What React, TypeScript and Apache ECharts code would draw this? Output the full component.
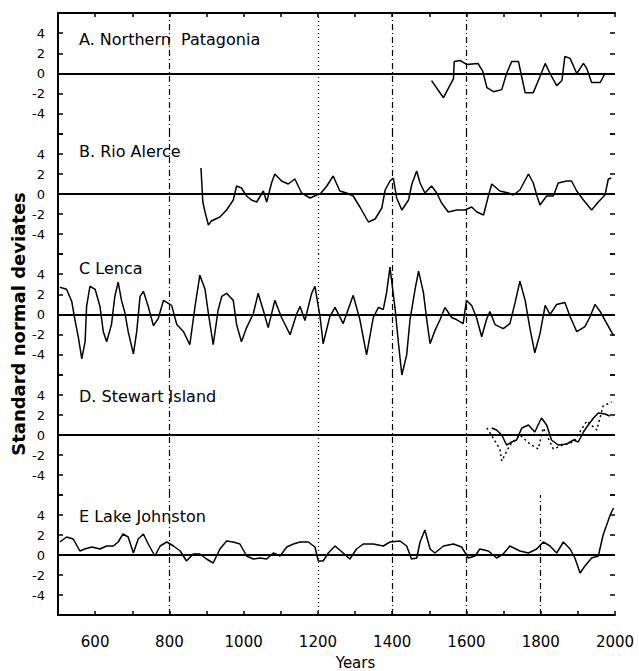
import React, { useEffect, useRef } from "react";
import * as echarts from "echarts";

// A. Northern Patagonia
const yearsA = [1506, 1538, 1565, 1567, 1583, 1600, 1631, 1644, 1655, 1673, 1695, 1708, 1722, 1740, 1748, 1758, 1780, 1798, 1812, 1825, 1843, 1857, 1865, 1879, 1897, 1915, 1924, 1937, 1960, 1973];
const valuesA = [-0.7, -2.4, -0.5, 1.2, 1.3, 0.9, 1.0, 0.2, -1.4, -1.8, -1.6, 0, 1.2, 1.2, -0.2, -1.9, -1.9, -0.3, 1.0, 0, -1.2, -0.7, 1.7, 1.5, 0, 1.0, 0.5, -0.9, -0.9, 0];

// B. Rio Alerce
const yearsB = [885, 890, 896, 905, 913, 936, 954, 972, 981, 994, 1008, 1021, 1035, 1053, 1062, 1075, 1084, 1102, 1120, 1138, 1156, 1179, 1197, 1206, 1224, 1241, 1259, 1277, 1295, 1313, 1336, 1354, 1372, 1381, 1394, 1403, 1412, 1426, 1444, 1453, 1466, 1475, 1488, 1506, 1520, 1533, 1551, 1574, 1596, 1614, 1628, 1646, 1659, 1668, 1690, 1713, 1726, 1744, 1767, 1780, 1789, 1798, 1816, 1834, 1847, 1870, 1883, 1897, 1915, 1937, 1955, 1973, 1982, 1990];
const valuesB = [2.6, -0.8, -1.8, -3.1, -2.7, -2.3, -1.6, -0.6, 0.8, 0.6, -0.2, -0.6, -0.8, 0.3, -0.8, 1.1, 2.0, 1.3, 1.0, 1.5, 0.1, -0.4, -0.1, 0, 0.8, 1.8, 0.3, 0.1, -0.2, -1.3, -2.8, -2.5, -1.4, 0.4, 1.3, 1.6, -0.4, -1.6, -0.6, 1.0, 2.3, 1.1, 0.1, 0.8, 0.1, -0.9, -1.8, -1.6, -1.6, -1.3, -1.8, -2.1, -0.2, 1.0, 0.3, 0.1, -0.1, 0.4, 2.0, 1.1, -0.1, -1.1, -0.2, -0.2, 1.1, 1.3, 1.3, 0.3, -0.6, -1.6, -0.8, -0.1, 1.5, 1.6];

// C. Lenca
const yearsC = [505, 523, 537, 546, 555, 564, 573, 577, 586, 600, 613, 622, 631, 644, 653, 662, 671, 680, 689, 703, 712, 721, 730, 743, 757, 770, 784, 806, 820, 838, 855, 869, 882, 896, 905, 918, 931, 941, 954, 972, 981, 994, 1008, 1026, 1039, 1053, 1066, 1084, 1102, 1125, 1143, 1152, 1165, 1183, 1192, 1206, 1214, 1232, 1246, 1268, 1295, 1313, 1331, 1349, 1363, 1376, 1385, 1394, 1408, 1417, 1426, 1439, 1448, 1462, 1471, 1484, 1493, 1502, 1515, 1529, 1542, 1560, 1573, 1591, 1600, 1614, 1627, 1641, 1654, 1663, 1677, 1699, 1717, 1731, 1744, 1758, 1771, 1784, 1798, 1812, 1825, 1843, 1865, 1879, 1897, 1919, 1933, 1946, 1960, 1978, 1996];
const valuesC = [2.7, 2.5, 1.3, -0.6, -2.3, -4.4, -2.7, 0.8, 2.8, 2.5, 0.8, -1.7, -2.7, -1.0, 1.8, 3.2, 1.4, 0.2, -1.7, -3.9, -1.7, 1.8, 2.3, 0.8, -1.1, -0.4, 1.4, 0.9, -1.0, -1.7, -3.0, 0.8, 3.9, 2.5, 0.1, -3.0, 0.4, 1.8, 2.1, 1.4, -1.0, -2.7, -1.3, 0.1, 2.1, 0.4, -1.3, 1.4, -0.3, -2.0, 0.1, 0.8, -0.6, 2.1, 2.8, -0.3, -2.9, -0.2, 0.7, -0.9, 1.9, -0.5, -4.0, -0.3, 0.7, 0.5, 2.2, 4.7, 0.5, -2.9, -6.0, -4.0, -0.5, 2.6, 4.3, 2.2, -0.5, -2.9, -1.6, -0.5, 0.7, -0.3, -0.5, -0.9, 1.4, 0.9, -0.3, -2.2, -0.5, 0.3, -1.0, -1.4, -0.9, 1.2, 3.3, 1.4, -1.4, -3.8, -1.9, 0.9, 0, 1.0, 1.2, -0.2, -1.7, -1.2, -0.2, 1.0, 0.3, -0.9, -2.1];

// D. Stewart Island (solid and dotted records)
const yearsD = [1668, 1681, 1695, 1708, 1722, 1735, 1749, 1767, 1784, 1802, 1816, 1829, 1847, 1870, 1888, 1901, 1915, 1928, 1942, 1955, 1973, 1986];
const valuesD = [0.7, 0.5, 0, -1.0, -0.7, -0.5, 0.7, 1.0, 0.3, 1.7, 1.0, -0.5, -1.0, -0.9, -0.5, -0.7, 0.3, 1.0, 1.7, 2.2, 2.1, 1.9];
const yearsD2 = [1655, 1690, 1695, 1717, 1744, 1771, 1793, 1807, 1834, 1860, 1888, 1924, 1951, 1968, 1991];
const valuesD2 = [0.7, -1.4, -2.6, -1.0, 0, -0.9, -1.4, 0.7, -1.4, -1.0, -0.7, 1.4, 0.5, 2.9, 3.3];

// E. Lake Johnston
const yearsE = [505, 523, 541, 559, 572, 591, 613, 631, 649, 662, 675, 689, 703, 716, 730, 743, 761, 775, 793, 811, 829, 846, 864, 882, 900, 918, 936, 954, 972, 990, 1008, 1026, 1044, 1062, 1080, 1098, 1116, 1134, 1152, 1174, 1192, 1201, 1214, 1228, 1246, 1268, 1286, 1304, 1322, 1349, 1376, 1394, 1421, 1439, 1452, 1466, 1475, 1488, 1502, 1515, 1538, 1565, 1587, 1605, 1623, 1636, 1659, 1681, 1699, 1717, 1744, 1767, 1789, 1807, 1825, 1843, 1861, 1879, 1892, 1906, 1919, 1937, 1955, 1968, 1987, 1996];
const valuesE = [1.3, 1.8, 1.6, 0.4, 0.6, 0.8, 0.6, 0.9, 0.9, 1.3, 2.1, 1.8, 0.2, 1.6, 2.1, 1.1, -0.1, 0.9, 1.3, 0.9, 0.4, -0.6, 0.1, 0.1, -0.4, -0.8, 0.6, 1.4, 1.3, 1.1, -0.1, -0.4, -0.3, -0.4, 0.2, -0.1, 0.8, 1.1, 1.3, 1.3, 0.8, -0.6, -0.6, 0.2, 0.9, 0.2, -0.4, 0.6, 1.1, 1.1, 0.9, 1.3, 1.4, 0.9, -0.4, -0.3, 1.3, 2.5, 0.6, 0.2, 0.9, 1.1, 0.8, -0.3, -0.1, 0.6, 0.4, -0.3, 0.1, 0.9, 0.4, 0.2, 0.6, 1.3, 0.9, 0.2, 1.3, 0.6, -0.3, -1.8, -1.1, -0.3, -0.1, 2.0, 4.0, 4.7];

const panelLabels = ["A. Northern  Patagonia", "B. Rio Alerce", "C Lenca", "D. Stewart Island", "E Lake Johnston"];
const xTickLabels = [600, 800, 1000, 1200, 1400, 1600, 1800, 2000];
const yTickLabels = [-4, -2, 0, 2, 4];
const refYears = [800, 1200, 1400, 1600];

const FONT = "DejaVu Sans";

export default function App() {
  const ref = useRef<HTMLDivElement>(null);
  useEffect(() => {
    document.body.style.margin = "0";
    if (!ref.current) return;
    const chart = echarts.init(ref.current, null, { renderer: "svg" });
    const tops = [13, 134, 254, 375, 495];
    const heights = [121, 120, 121, 120, 121];
    const grids = tops.map((t, i) => ({ left: 58, right: 24, top: t, height: heights[i] }));

    const xAxes: any[] = tops.map((_, i) => ({
      gridIndex: i,
      type: "value",
      min: 500,
      max: 2000,
      interval: 100,
      show: i === 4,
      position: "bottom",
      axisLine: { onZero: false, lineStyle: { color: "#000", width: 2 } },
      axisTick: { inside: true, length: 4, lineStyle: { color: "#000", width: 1.5 } },
      splitLine: { show: false },
      axisLabel: {
        show: i === 4,
        margin: 19,
        color: "#000",
        fontSize: 15,
        fontFamily: FONT,
        formatter: (v: number) => (xTickLabels.includes(v) ? String(v) : ""),
      },
      name: i === 4 ? "Years" : "",
      nameLocation: "middle",
      nameGap: 40,
      nameTextStyle: { color: "#000", fontSize: 15, fontFamily: FONT, padding: [0, 0, 0, 38] },
    }));
    xAxes.push({
      gridIndex: 0,
      type: "value",
      min: 500,
      max: 2000,
      interval: 100,
      position: "top",
      axisLine: { onZero: false, lineStyle: { color: "#000", width: 2 } },
      axisTick: { inside: true, length: 4, lineStyle: { color: "#000", width: 1.5 } },
      axisLabel: { show: false },
      splitLine: { show: false },
    });

    const yAxes: any[] = [];
    tops.forEach((_, i) => {
      yAxes.push({
        gridIndex: i,
        type: "value",
        min: -6,
        max: 6,
        interval: 2,
        position: "left",
        axisLine: { show: true, onZero: false, lineStyle: { color: "#000", width: 2 } },
        axisTick: { show: true, inside: true, length: 5, lineStyle: { color: "#000", width: 1.5 } },
        splitLine: { show: false },
        axisLabel: {
          color: "#000",
          fontSize: 13,
          fontFamily: FONT,
          margin: 13,
          formatter: (v: number) => (yTickLabels.includes(v) ? String(v) : ""),
        },
      });
    });
    tops.forEach((_, i) => {
      yAxes.push({
        gridIndex: i,
        type: "value",
        min: -6,
        max: 6,
        interval: 2,
        position: "right",
        axisLine: { show: false },
        axisTick: { show: true, inside: true, length: 5, lineStyle: { color: "#000", width: 1.5 } },
        axisLabel: { show: false },
        splitLine: { show: false },
      });
    });

    const datasets = [
      [yearsA, valuesA],
      [yearsB, valuesB],
      [yearsC, valuesC],
      [yearsD, valuesD],
      [yearsE, valuesE],
    ];

    const refLines = (i: number) => {
      const yrs = i === 4 ? [...refYears, 1800] : refYears;
      return yrs.map((y) => ({
        xAxis: y,
        lineStyle: { color: "#000", width: 1.2, type: y === 1200 ? [1, 3] : [6, 3, 1, 3] },
      }));
    };

    const series: any[] = datasets.map(([yrs, vals], i) => ({
      type: "line",
      xAxisIndex: i,
      yAxisIndex: i,
      data: (yrs as number[]).map((y, k) => [y, (vals as number[])[k]]),
      symbol: "none",
      lineStyle: { color: "#000", width: 1.5 },
      z: 3,
      markLine: {
        silent: true,
        symbol: "none",
        label: { show: false },
        data: [{ yAxis: 0, lineStyle: { color: "#000", width: 2, type: "solid" } }, ...refLines(i)],
      },
    }));
    series.push({
      type: "line",
      xAxisIndex: 3,
      yAxisIndex: 3,
      data: yearsD2.map((y, k) => [y, valuesD2[k]]),
      symbol: "none",
      lineStyle: { color: "#000", width: 1.5, type: [2, 3] },
      z: 3,
    });

    chart.setOption({
      animation: false,
      backgroundColor: "#fff",
      title: panelLabels.map((t, i) => ({
        text: t,
        left: 79,
        top: [31, 143, 260, 388, 508][i],
        padding: 0,
        textStyle: { color: "#000", fontSize: 16, fontWeight: "normal", fontFamily: FONT },
      })),
      grid: grids,
      xAxis: xAxes,
      yAxis: yAxes,
      series,
      graphic: [
        {
          type: "text",
          x: 18,
          y: 324,
          rotation: Math.PI / 2,
          style: {
            text: "Standard normal deviates",
            fill: "#000",
            font: `bold 18px "${FONT}"`,
            textAlign: "center",
            textVerticalAlign: "middle",
          },
        },
      ],
    });
    return () => chart.dispose();
  }, []);
  return <div ref={ref} style={{ width: 639, height: 671 }} />;
}
